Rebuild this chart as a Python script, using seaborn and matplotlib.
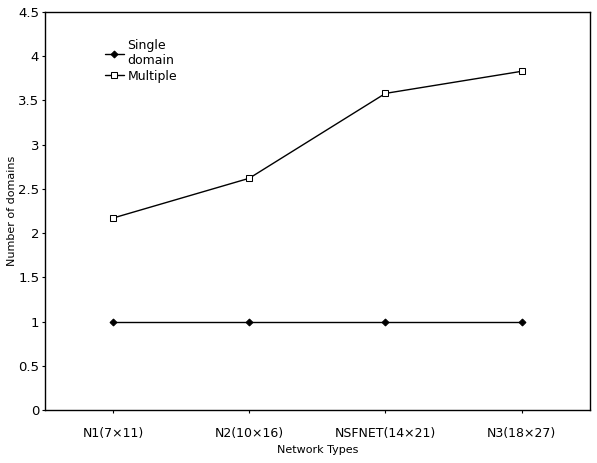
import pandas as pd
import numpy as np
import seaborn as sns
import matplotlib.pyplot as plt

sns.set_style('white')
plt.rcParams['font.family'] = ['Liberation Sans Narrow', 'DejaVu Sans']
plt.rcParams['text.color'] = 'black'
plt.rcParams['axes.labelcolor'] = 'black'
plt.rcParams['xtick.color'] = 'black'
plt.rcParams['ytick.color'] = 'black'

networks = ['N1(7\u00d711)', 'N2(10\u00d716)', 'NSFNET(14\u00d721)', 'N3(18\u00d727)']
single = [1, 1, 1, 1]
multiple = [2.17, 2.62, 3.58, 3.83]

df = pd.DataFrame({'Network': networks * 2,
                   'Domains': single + multiple,
                   'Type': ['Single\ndomain'] * 4 + ['Multiple'] * 4})

fig = plt.figure(figsize=(5.97, 4.63), dpi=100)
ax = fig.add_axes([0.075, 0.1145, 0.913, 0.8595])

sns.lineplot(data=df, x='Network', y='Domains', hue='Type', style='Type',
             markers={'Single\ndomain': 'D', 'Multiple': 's'}, dashes=False,
             palette=['black', 'black'], linewidth=1, ax=ax, sort=False)
for line in ax.lines:
    if line.get_marker() == 's':
        line.set_markerfacecolor('white')
        line.set_markersize(4)
    else:
        line.set_markersize(3.5)
    line.set_markeredgecolor('black')

ax.set_xlim(-0.5, 3.5)
ax.set_ylim(0, 4.5)
ax.set_yticks(np.arange(0, 4.6, 0.5))
ax.set_yticklabels(['0', '0.5', '1', '1.5', '2', '2.5', '3', '3.5', '4', '4.5'])
ax.tick_params(axis='y', labelsize=9.5, length=2, direction='out', left=True, pad=2)
ax.tick_params(axis='x', labelsize=9, length=2, direction='out', bottom=True, pad=10)
ax.set_xlabel('Network Types', fontsize=8, labelpad=4)
ax.set_ylabel('Number of domains', fontsize=8, labelpad=1)
for s in ax.spines.values():
    s.set_color('black')
    s.set_linewidth(1)

leg = ax.legend(loc='upper left', bbox_to_anchor=(0.09, 0.96), frameon=False,
                fontsize=9, handlelength=1.5, handletextpad=0.3, labelspacing=0.2)
for h in leg.legend_handles:
    h.set_markeredgecolor('black')

fig.savefig('out.png', dpi=100)
